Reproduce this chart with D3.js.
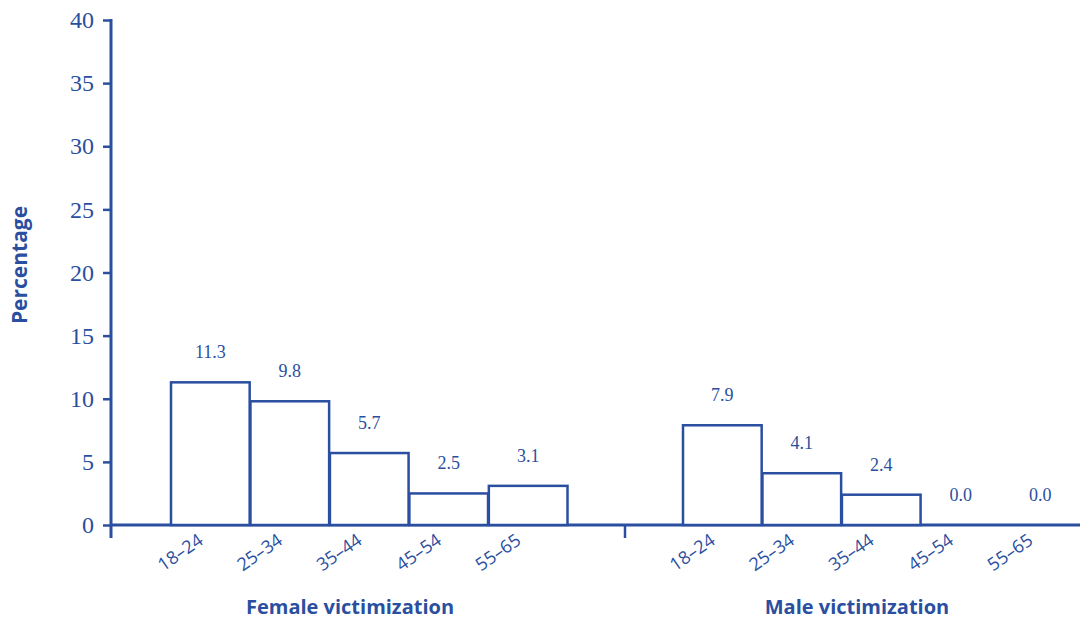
<!DOCTYPE html>
<html>
<head>
<meta charset="utf-8">
<script src="https://cdn.jsdelivr.net/npm/d3@7"></script>
<style>
  html, body { margin: 0; padding: 0; background: #fff; }
  svg { display: block; }
</style>
</head>
<body>
<svg id="chart" width="1082" height="621"></svg>
<script>
const ageGroups = ["18–24", "25–34", "35–44", "45–54", "55–65"];
const femaleValues = [11.3, 9.8, 5.7, 2.5, 3.1];
const maleValues = [7.9, 4.1, 2.4, 0.0, 0.0];
const groupLabels = ["Female victimization", "Male victimization"];
const yTicks = [0, 5, 10, 15, 20, 25, 30, 35, 40];
const yTitle = "Percentage";

const color = "#2b4fa0";
const svg = d3.select("#chart");

const y = d3.scaleLinear().domain([0, 40]).range([525, 20]);
const xAxisLeft = 111, xAxisRight = 1080;

const xFemale = d3.scaleBand().domain(ageGroups).range([171, 567.5]).paddingInner(0.01);
const xMale = d3.scaleBand().domain(ageGroups).range([683, 1079.5]).paddingInner(0.01);

// Y axis
const yAxis = d3.axisLeft(y).tickValues(yTicks).tickSize(8).tickPadding(9).tickSizeOuter(0);
const gy = svg.append("g").attr("transform", `translate(${xAxisLeft},0)`).call(yAxis);
gy.select(".domain").remove();
gy.selectAll(".tick line").attr("stroke", color).attr("stroke-width", 2.5);
gy.selectAll(".tick text")
  .attr("fill", color)
  .attr("font-family", "'Liberation Serif', serif")
  .attr("font-size", 24)
  .attr("dy", "0.32em");
svg.append("line")
  .attr("x1", xAxisLeft).attr("x2", xAxisLeft)
  .attr("y1", y(40) - 1).attr("y2", 538)
  .attr("stroke", color).attr("stroke-width", 3);

// X baseline
svg.append("line")
  .attr("x1", xAxisLeft).attr("x2", xAxisRight)
  .attr("y1", y(0)).attr("y2", y(0))
  .attr("stroke", color).attr("stroke-width", 3);
// group separator tick
svg.append("line")
  .attr("x1", 625).attr("x2", 625)
  .attr("y1", y(0)).attr("y2", 538)
  .attr("stroke", color).attr("stroke-width", 2.5);

function drawGroup(xs, values, label, cx) {
  const g = svg.append("g");
  const data = ageGroups.map((a, i) => ({ a, v: values[i] }));
  g.selectAll("rect").data(data.filter(d => d.v > 0)).join("rect")
    .attr("x", d => xs(d.a))
    .attr("y", d => y(d.v))
    .attr("width", xs.bandwidth())
    .attr("height", d => y(0) - y(d.v))
    .attr("fill", "#fff")
    .attr("stroke", color)
    .attr("stroke-width", 2.5);
  g.selectAll("text.val").data(data).join("text")
    .attr("class", "val")
    .attr("x", d => xs(d.a) + xs.bandwidth() / 2)
    .attr("y", d => y(d.v) - 24)
    .attr("text-anchor", "middle")
    .attr("fill", color)
    .attr("font-family", "'Liberation Serif', serif")
    .attr("font-size", 18)
    .text(d => d.v.toFixed(1));
  g.selectAll("text.cat").data(data).join("text")
    .attr("class", "cat")
    .attr("transform", d => `translate(${xs(d.a) + xs.bandwidth() / 2 - 6},543) rotate(-35)`)
    .attr("text-anchor", "end")
    .attr("fill", color)
    .attr("font-family", "'Open Sans', sans-serif")
    .attr("font-size", 18)
    .text(d => d.a);
  g.append("text")
    .attr("x", cx)
    .attr("y", 614)
    .attr("text-anchor", "middle")
    .attr("fill", color)
    .attr("font-family", "'Open Sans', sans-serif")
    .attr("font-weight", "bold")
    .attr("font-size", 20)
    .text(label);
}
drawGroup(xFemale, femaleValues, groupLabels[0], 350);
drawGroup(xMale, maleValues, groupLabels[1], 857);

// Y title
svg.append("text")
  .attr("transform", "translate(27,265) rotate(-90)")
  .attr("text-anchor", "middle")
  .attr("fill", color)
  .attr("font-family", "'Open Sans', sans-serif")
  .attr("font-weight", "bold")
  .attr("font-size", 21)
  .text(yTitle);
</script>
</body>
</html>
